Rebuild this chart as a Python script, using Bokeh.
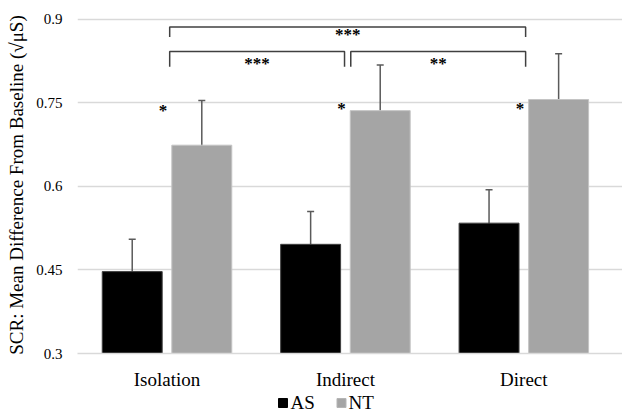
from bokeh.plotting import figure
from bokeh.layouts import column
from bokeh.models import ColumnDataSource, Whisker, TeeHead, FixedTicker, Range1d
from bokeh.core.properties import value
from bokeh.embed import file_html
from bokeh.resources import INLINE

# ---- data ----
categories = ["Isolation", "Indirect", "Direct"]
as_means = [0.447, 0.496, 0.534]
as_err = [0.058, 0.059, 0.060]
nt_means = [0.674, 0.736, 0.756]
nt_err = [0.080, 0.082, 0.082]
y_ticks = [0.3, 0.45, 0.6, 0.75, 0.9]
group_stars = ["*", "*", "*"]
comparisons = [(0, 1, "***"), (1, 2, "**"), (0, 2, "***")]
series_names = ["AS", "NT"]
series_colors = ["black", "#a5a5a5"]

FONT = "Liberation Serif"
OFF = 0.195
BW = 0.336
W = 622
LEFT = 77

p = figure(width=W, height=392, output_backend="svg", toolbar_location=None,
           x_range=Range1d(-0.5017, 2.553), y_range=Range1d(0.3, 0.905),
           min_border_left=LEFT, min_border_right=0, min_border_top=16, min_border_bottom=36)
p.outline_line_color = None
p.background_fill_color = "white"

idx = list(range(len(categories)))
as_x = [i - OFF for i in idx]
nt_x = [i + OFF for i in idx]

src_as = ColumnDataSource(dict(x=as_x, top=as_means,
                               up=[m + e for m, e in zip(as_means, as_err)],
                               lo=[m - e for m, e in zip(as_means, as_err)]))
src_nt = ColumnDataSource(dict(x=nt_x, top=nt_means,
                               up=[m + e for m, e in zip(nt_means, nt_err)],
                               lo=[m - e for m, e in zip(nt_means, nt_err)]))

p.vbar(x="x", top="top", bottom=0.3, width=BW, source=src_as,
       fill_color=series_colors[0], line_color="#404040", line_width=1)
p.vbar(x="x", top="top", bottom=0.3, width=BW, source=src_nt,
       fill_color=series_colors[1], line_color="#c4c4c4", line_width=1)

for src in (src_as, src_nt):
    w = Whisker(base="x", upper="up", lower="lo", source=src, dimension="height",
                line_color="#5a5a5a", line_width=1.5,
                upper_head=TeeHead(size=7, line_color="#5a5a5a", line_width=1.5),
                lower_head=TeeHead(size=7, line_color="#5a5a5a", line_width=1.5))
    p.add_layout(w)

# group-level stars
star_y = [0.736, 0.740, 0.740]
p.text(x=[i - 0.022 for i in idx], y=star_y, text=group_stars,
       text_font=value(FONT), text_font_size="17px", text_font_style="bold",
       text_align="center", text_baseline="middle", text_color="black")

# brackets
bracket_spans = [(0.015, 0.995), (1.03, 2.01), (0.015, 2.01)]
levels = [(0.842, 0.815), (0.842, 0.815), (0.886, 0.868)]
lab_y = [0.82, 0.82, 0.873]
for (i, j, lab), (x0, x1), (top, bot), ly in zip(comparisons, bracket_spans, levels, lab_y):
    p.line(x=[x0, x0, x1, x1], y=[bot, top, top, bot], line_color="#404040", line_width=1.5)
    p.text(x=[(x0 + x1) / 2], y=[ly], text=[lab],
           text_font=value(FONT), text_font_size="17px", text_font_style="bold",
           text_align="center", text_baseline="middle", text_color="black")

# axes
p.xaxis.ticker = FixedTicker(ticks=idx)
p.xaxis.major_label_overrides = {i: c for i, c in zip(idx, categories)}
p.xaxis.major_label_text_font = FONT
p.xaxis.major_label_text_font_size = "19px"
p.xaxis.major_label_text_color = "black"
p.xaxis.major_label_standoff = 9
p.xaxis.major_tick_line_color = None
p.xaxis.minor_tick_line_color = None
p.xaxis.axis_line_color = "#d9d9d9"
p.xaxis.axis_line_width = 1.5

p.yaxis.ticker = FixedTicker(ticks=y_ticks)
p.yaxis.major_label_overrides = {0.3: "0.3", 0.45: "0.45", 0.6: "0.6", 0.75: "0.75", 0.9: "0.9"}
p.yaxis.major_label_text_font = FONT
p.yaxis.major_label_text_font_size = "15px"
p.yaxis.major_label_text_color = "black"
p.yaxis.major_label_standoff = 9
p.yaxis.major_tick_line_color = None
p.yaxis.minor_tick_line_color = None
p.yaxis.axis_line_color = None
p.yaxis.axis_label = "SCR: Mean Difference From Baseline (√μS)"
p.yaxis.axis_label_text_font = FONT
p.yaxis.axis_label_text_font_size = "19px"
p.yaxis.axis_label_text_font_style = "normal"
p.yaxis.axis_label_text_color = "black"
p.yaxis.axis_label_standoff = 6

p.xgrid.grid_line_color = None
p.ygrid.grid_line_color = "#d9d9d9"
p.ygrid.grid_line_width = 1.5

# ---- legend strip (x in page pixels, frame aligned with the chart) ----
LH = 19
leg = figure(width=W, height=LH, output_backend="svg", toolbar_location=None,
             x_range=Range1d(LEFT, W), y_range=Range1d(0, LH),
             x_axis_location=None, y_axis_location=None,
             min_border_left=LEFT, min_border_right=0, min_border_top=0, min_border_bottom=0)
leg.outline_line_color = None
leg.xgrid.visible = False
leg.ygrid.visible = False
sq_x = [282.5, 341]
lab_x = [290, 348]
leg.rect(x=sq_x, y=[LH / 2 - 1] * 2, width=9, height=9, fill_color=series_colors,
         line_color=["black", "#b5b5b5"])
leg.text(x=lab_x, y=[LH / 2] * 2, text=series_names, text_font=value(FONT),
         text_font_size="19px", text_align="left", text_baseline="middle", text_color="black")

layout = column(p, leg, spacing=0)
open("out.html", "w").write(file_html(layout, INLINE))
